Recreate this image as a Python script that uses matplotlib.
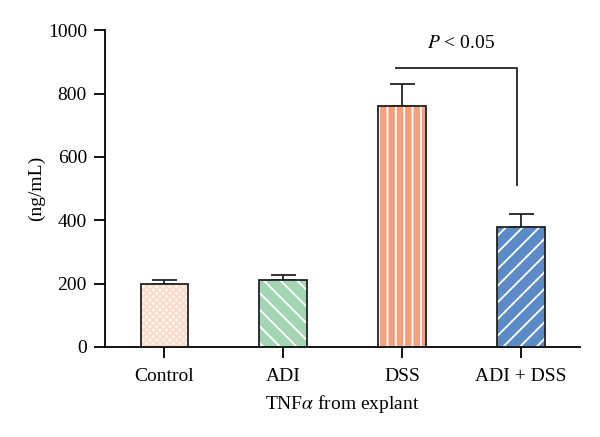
import numpy as np
import matplotlib
matplotlib.use('Agg')
import matplotlib.pyplot as plt

plt.rcParams['font.family'] = ['Liberation Serif', 'DejaVu Serif']
plt.rcParams['mathtext.fontset'] = 'stix'
plt.rcParams['hatch.linewidth'] = 1.3

# 数据
groups = ['Control', 'ADI', 'DSS', 'ADI + DSS']
means = [200, 210, 760, 380]
errs = [10, 18, 70, 40]
colors = ['#fff5ef', '#a4d5b2', '#f4a07f', '#5b8bc6']
hatch_colors = ['#f9dac9', 'white', 'white', 'white']
hatches = ['xxxxx', '\\\\', '||', '//']

fig = plt.figure(figsize=(6, 4.37), dpi=100)
ax = fig.add_axes([0.175, 0.206, 0.792, 0.725])

x = np.arange(len(groups))
for i in range(len(groups)):
    # 先画填充和花纹，再画黑色边框
    ax.bar(x[i], means[i], width=0.4, color=colors[i], edgecolor=hatch_colors[i],
           linewidth=0, hatch=hatches[i], zorder=2)
    ax.bar(x[i], means[i], width=0.4, fill=False, edgecolor='#222222',
           linewidth=1.3, zorder=3)
    ax.errorbar(x[i], means[i], yerr=[[0], [errs[i]]], fmt='none',
                ecolor='#222222', elinewidth=1.3, capsize=9, capthick=1.3, zorder=1)

# 显著性标注
ax.plot([x[2] - 0.05, x[3] - 0.03, x[3] - 0.03], [880, 880, 510],
        color='#222222', linewidth=1.3)
ax.text((x[2] + x[3]) / 2, 932, '$P$ < 0.05', ha='center', va='bottom', fontsize=14)

ax.set_xlim(-0.5, 3.5)
ax.set_ylim(0, 1000)
ax.set_yticks([0, 200, 400, 600, 800, 1000])
ax.set_xticks(x)
ax.set_xticklabels(groups)
ax.set_ylabel('(ng/mL)', fontsize=14, labelpad=2)
ax.set_xlabel(r'TNF$\alpha$ from explant', fontsize=14, labelpad=6)
for s in ['top', 'right']:
    ax.spines[s].set_visible(False)
for s in ['left', 'bottom']:
    ax.spines[s].set_linewidth(1.3)
ax.tick_params(axis='both', direction='out', length=8, width=1.3, labelsize=14)
ax.tick_params(axis='y', pad=5)
ax.tick_params(axis='x', pad=7)

plt.savefig('out.png', dpi=100)
